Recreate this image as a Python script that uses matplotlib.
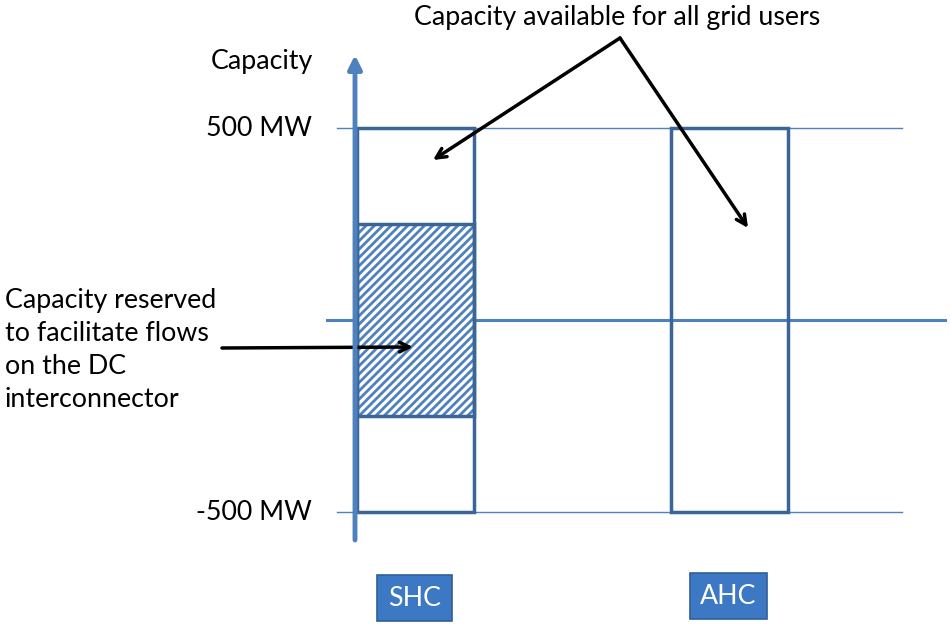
import numpy as np
import matplotlib
matplotlib.use("Agg")
import matplotlib.pyplot as plt
from matplotlib.patches import Rectangle

# data (MW)
categories = ["SHC", "AHC"]
cap_max = [500, 500]
cap_min = [-500, -500]
reserved_top = [250, None]
reserved_bottom = [-250, None]
tick_vals = [500, -500]
tick_labels = ["500 MW", "-500 MW"]

plt.rcParams['font.family'] = ['Lato', 'DejaVu Sans']
plt.rcParams['hatch.linewidth'] = 2.0

edge = '#3A6596'
light = '#4F81BD'

fig = plt.figure(figsize=(9.5, 6.28), dpi=100)
ax = fig.add_axes([0, 0, 1, 1])
ax.set_xlim(0, 950)
# pixel row -> MW, 0 MW at row 320, 0.384 px per MW
def py(y):
    return (320 - y) / 0.384
ax.set_ylim(py(628), py(0))
ax.axis('off')

bar_left = [357, 671]
bar_w = 117

# grid lines at +-500 and 0
for v in tick_vals:
    ax.plot([337, 902], [v, v], color=light, lw=1.0, zorder=1)
ax.plot([327, 945], [0, 0], color=light, lw=2.2, zorder=1)

for i, c in enumerate(categories):
    if reserved_top[i] is not None:
        ax.add_patch(Rectangle((bar_left[i], reserved_bottom[i]), bar_w,
                               reserved_top[i] - reserved_bottom[i],
                               facecolor='white', edgecolor=light, hatch='////',
                               lw=0, zorder=2))
        ax.add_patch(Rectangle((bar_left[i], reserved_bottom[i]), bar_w,
                               reserved_top[i] - reserved_bottom[i],
                               facecolor='none', edgecolor=edge, lw=2.5, zorder=3))
    ax.add_patch(Rectangle((bar_left[i], cap_min[i]), bar_w, cap_max[i] - cap_min[i],
                           facecolor='none', edgecolor=edge, lw=2.5, zorder=3))

# y axis arrow
ax.annotate('', xy=(355, py(55)), xytext=(355, py(540)),
            arrowprops=dict(arrowstyle='-|>,head_length=0.8,head_width=0.4',
                            color=light, lw=3.5, shrinkA=0, shrinkB=0), zorder=4)

fs = 19.3
ax.text(262, py(62), "Capacity", fontsize=fs, ha='center', va='center')
for v, lab in zip(tick_vals, tick_labels):
    ax.text(312, v, lab, fontsize=fs, ha='right', va='center')

ax.text(617, py(17), "Capacity available for all grid users", fontsize=fs,
        ha='center', va='center')
ax.text(5, py(350), "Capacity reserved\nto facilitate flows\non the DC\ninterconnector",
        fontsize=fs, ha='left', va='center', linespacing=1.4)

arrow = dict(arrowstyle='->,head_length=0.7,head_width=0.35', color='black',
             lw=2.5, shrinkA=0, shrinkB=0)
ax.annotate('', xy=(433, py(160)), xytext=(620, py(38)), arrowprops=arrow)
ax.annotate('', xy=(748, py(228)), xytext=(620, py(38)), arrowprops=arrow)
ax.annotate('', xy=(413, py(347)), xytext=(222, py(348)), arrowprops=arrow)

# category boxes
label_x = [414.5, 728.5]
label_y = [py(598), py(596)]
for c, x, y in zip(categories, label_x, label_y):
    ax.text(x, y, c, fontsize=fs, color='white', ha='center', va='center',
            bbox=dict(boxstyle='square,pad=0.4', facecolor='#3C78C3',
                      edgecolor='#2F5F9A', lw=1.2))

fig.savefig('out.png', dpi=100)
